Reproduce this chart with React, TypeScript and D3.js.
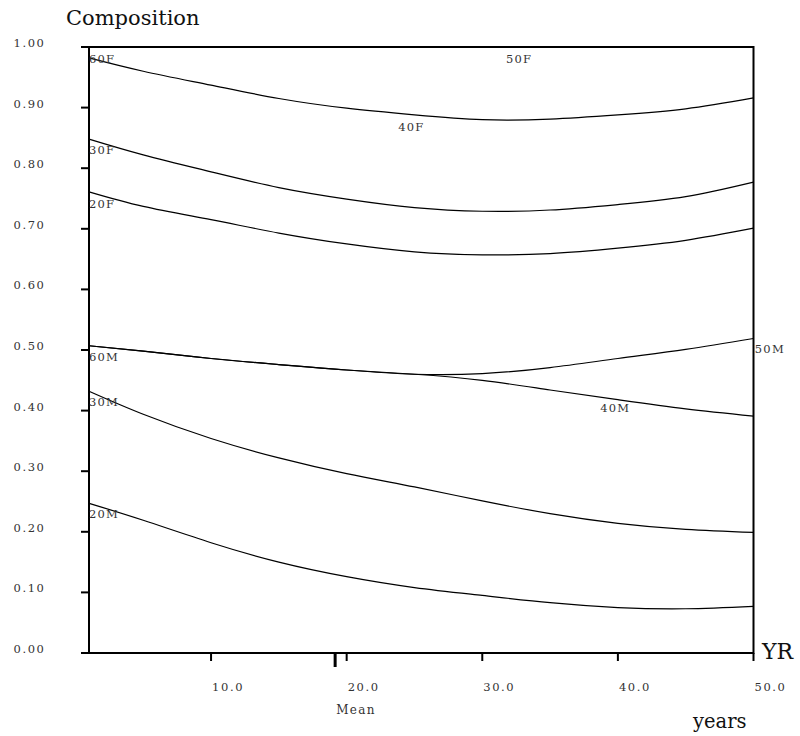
import React from "react";
import * as d3 from "d3";

// Years sampled along the horizontal axis
const years = [1, 5, 10, 15, 20, 25, 30, 35, 40, 45, 50];

// Composition by age group
const female60 = [0.982, 0.960, 0.937, 0.915, 0.899, 0.888, 0.880, 0.881, 0.888, 0.898, 0.916];
const female30 = [0.848, 0.822, 0.794, 0.768, 0.749, 0.735, 0.729, 0.731, 0.740, 0.753, 0.777];
const female20 = [0.761, 0.737, 0.715, 0.693, 0.675, 0.662, 0.657, 0.659, 0.668, 0.681, 0.701];
const male50 = [0.507, 0.498, 0.486, 0.476, 0.467, 0.460, 0.461, 0.471, 0.486, 0.501, 0.519];
const male40 = [0.507, 0.498, 0.486, 0.476, 0.467, 0.460, 0.450, 0.434, 0.418, 0.403, 0.391];
const male30 = [0.432, 0.394, 0.354, 0.322, 0.296, 0.274, 0.251, 0.230, 0.214, 0.204, 0.199];
const male20 = [0.247, 0.219, 0.182, 0.150, 0.126, 0.108, 0.095, 0.083, 0.075, 0.073, 0.077];

const seriesList = [female60, female30, female20, male50, male40, male30, male20];

// Curve labels: text, year, composition
const labelText = ["60F", "30F", "20F", "60M", "30M", "20M", "40F", "50F", "50M", "40M"];
const labelYear = [1, 1, 1, 1, 1, 1, 23.8, 31.75, 50.1, 38.7];
const labelValue = [0.974, 0.823, 0.735, 0.482, 0.408, 0.222, 0.862, 0.973, 0.495, 0.398];

const yTicks = [0, 0.1, 0.2, 0.3, 0.4, 0.5, 0.6, 0.7, 0.8, 0.9, 1.0];
const xTicks = [10, 20, 30, 40, 50];
const meanYear = 19.15;

const serif = "'DejaVu Serif', 'Liberation Serif', 'Noto Serif', 'Times New Roman', serif";

export default function App() {
  const left = 89;
  const right = 753.5;
  const top = 47;
  const bottom = 653;

  const x = d3.scaleLinear().domain([1, 50]).range([left, right]);
  const y = d3.scaleLinear().domain([0, 1]).range([bottom, top]);

  const line = d3
    .line<number>()
    .x((_, i) => x(years[i]))
    .y((d) => y(d))
    .curve(d3.curveNatural);

  const small: React.CSSProperties = {
    fontFamily: serif,
    fontSize: 11.5,
    letterSpacing: 1.6,
    fill: "#333",
  };

  return (
    <svg
      width={800}
      height={736}
      style={{ position: "absolute", left: 0, top: 0, background: "#fff" }}
    >
      {/* curves */}
      {seriesList.map((s, i) => (
        <path key={i} d={line(s) || ""} fill="none" stroke="#000" strokeWidth={1.2} />
      ))}

      {/* frame */}
      <rect
        x={left}
        y={top}
        width={right - left}
        height={bottom - top}
        fill="none"
        stroke="#000"
        strokeWidth={2}
      />

      {/* y axis ticks and labels */}
      {yTicks.map((t) => (
        <g key={t}>
          <line x1={left - 8} x2={left} y1={y(t)} y2={y(t)} stroke="#000" strokeWidth={2} />
          <text x={13.5} y={y(t)} style={small}>
            {t.toFixed(2)}
          </text>
        </g>
      ))}

      {/* x axis ticks and labels */}
      {xTicks.map((t) => (
        <g key={t}>
          <line x1={x(t)} x2={x(t)} y1={bottom} y2={bottom + 8} stroke="#000" strokeWidth={2} />
          <text x={x(t) + 1} y={691} style={small}>
            {t.toFixed(1)}
          </text>
        </g>
      ))}

      {/* mean marker */}
      <line
        x1={x(meanYear)}
        x2={x(meanYear)}
        y1={bottom}
        y2={bottom + 14}
        stroke="#000"
        strokeWidth={3}
      />
      <text x={x(meanYear) + 1} y={713.5} style={{ ...small, fontSize: 12, letterSpacing: 1.4 }}>
        Mean
      </text>

      {/* curve labels */}
      {labelText.map((t, i) => (
        <text
          key={t}
          x={x(labelYear[i])}
          y={y(labelValue[i])}
          style={{ ...small, letterSpacing: 1.2 }}
        >
          {t}
        </text>
      ))}

      {/* titles */}
      <text x={66} y={25} style={{ fontFamily: serif, fontSize: 21, fill: "#111" }}>
        Composition
      </text>
      <text x={762} y={659} style={{ fontFamily: serif, fontSize: 22, fill: "#111" }}>
        YR
      </text>
      <text x={693} y={728} style={{ fontFamily: serif, fontSize: 19.5, fill: "#111" }}>
        years
      </text>
    </svg>
  );
}
